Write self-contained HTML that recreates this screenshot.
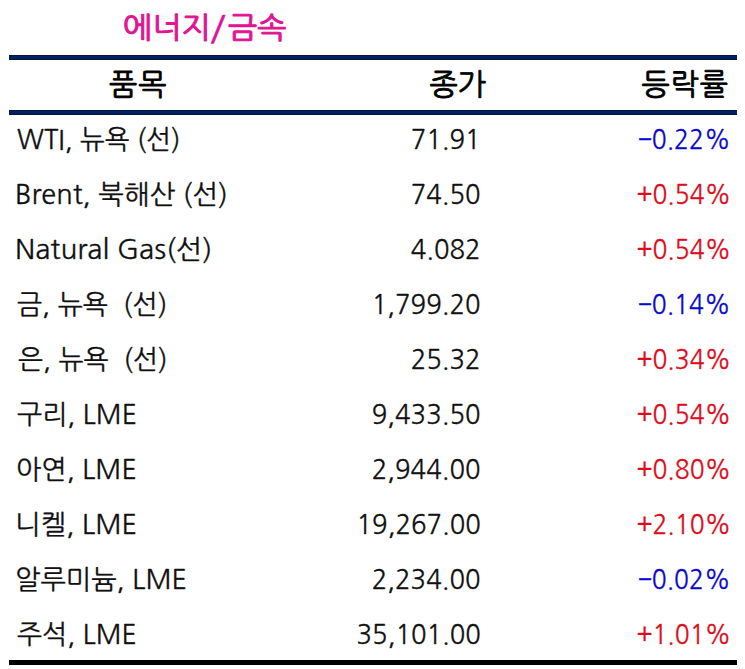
<!DOCTYPE html><html><head><meta charset="utf-8"><style>
*{margin:0;padding:0;box-sizing:border-box}
html,body{width:745px;height:669px;background:#fff;overflow:hidden}
body{position:relative;font-family:"NanumGothic","Noto Sans CJK KR",sans-serif;color:#111}
.t{position:absolute;left:123px;top:9px;font-size:31px;font-weight:normal;-webkit-text-stroke:1.1px #e01592;color:#e01592;line-height:40px;white-space:nowrap;transform:scaleY(0.95);transform-origin:0 0}
.ln{position:absolute;left:9px;width:728px;height:5px}
.h{position:absolute;top:61px;height:46px;line-height:46px;font-size:30px;font-weight:normal;-webkit-text-stroke:0.8px #000;letter-spacing:1px;color:#000;white-space:nowrap}
.r{position:absolute;height:55px;line-height:55px;font-size:27px;white-space:nowrap;-webkit-text-stroke:0.3px currentColor}
.c1{left:17px}
.c2{right:264px;text-align:right;transform:scaleX(0.95);transform-origin:100% 50%}
.c3{right:14px;text-align:right;transform:scaleX(0.91);transform-origin:100% 50%}
.sl{display:inline-block;transform:translateY(-0.7px) scale(1.3,1.17);-webkit-text-stroke:0.3px #e01592;margin:0 4px 0 2px}
.nv{background:#002060;border-top:1px solid #001540;border-bottom:1px solid #001540}
.n{color:#0a08cc}
.p{color:#dc0c1c}
</style></head><body>
<div class="t">에너지<span class="sl">/</span>금속</div>
<div class="ln nv" style="top:55px"></div>
<div class="h" style="left:109px">품목</div>
<div class="h" style="right:259px;letter-spacing:0">종가</div>
<div class="h" style="right:16px">등락률</div>
<div class="ln nv" style="top:110px"></div>
<div class="r c1" style="top:112px;left:17.20px;transform:scaleX(0.9729);transform-origin:0 50%">WTI, 뉴욕 (선)</div>
<div class="r c2" style="top:112px">71.91</div>
<div class="r c3 n" style="top:112px">−0.22%</div>
<div class="r c1" style="top:167px;left:15.39px;transform:scaleX(1.0068);transform-origin:0 50%">Brent, 북해산 (선)</div>
<div class="r c2" style="top:167px">74.50</div>
<div class="r c3 p" style="top:167px">+0.54%</div>
<div class="r c1" style="top:222px;left:15.34px;transform:scaleX(1.0287);transform-origin:0 50%">Natural Gas(선)</div>
<div class="r c2" style="top:222px">4.082</div>
<div class="r c3 p" style="top:222px">+0.54%</div>
<div class="r c1" style="top:277px;left:16.80px;transform:scaleX(0.9893);transform-origin:0 50%">금, 뉴욕&nbsp; (선)</div>
<div class="r c2" style="top:277px">1,799.20</div>
<div class="r c3 n" style="top:277px">−0.14%</div>
<div class="r c1" style="top:332px;left:17.60px;transform:scaleX(0.9840);transform-origin:0 50%">은, 뉴욕&nbsp; (선)</div>
<div class="r c2" style="top:332px">25.32</div>
<div class="r c3 p" style="top:332px">+0.34%</div>
<div class="r c1" style="top:387px;left:16.50px;transform:scaleX(0.9900);transform-origin:0 50%">구리, LME</div>
<div class="r c2" style="top:387px">9,433.50</div>
<div class="r c3 p" style="top:387px">+0.54%</div>
<div class="r c1" style="top:442px;left:15.61px;transform:scaleX(0.9975);transform-origin:0 50%">아연, LME</div>
<div class="r c2" style="top:442px">2,944.00</div>
<div class="r c3 p" style="top:442px">+0.80%</div>
<div class="r c1" style="top:497px;left:14.98px;transform:scaleX(1.0077);transform-origin:0 50%">니켈, LME</div>
<div class="r c2" style="top:497px">19,267.00</div>
<div class="r c3 p" style="top:497px">+2.10%</div>
<div class="r c1" style="top:552px;left:15.30px;transform:scaleX(1.0006);transform-origin:0 50%">알루미늄, LME</div>
<div class="r c2" style="top:552px">2,234.00</div>
<div class="r c3 n" style="top:552px">−0.02%</div>
<div class="r c1" style="top:607px;left:17.30px;transform:scaleX(0.9883);transform-origin:0 50%">주석, LME</div>
<div class="r c2" style="top:607px">35,101.00</div>
<div class="r c3 p" style="top:607px">+1.01%</div>
<div class="ln" style="top:660px;background:#000"></div>
</body></html>
